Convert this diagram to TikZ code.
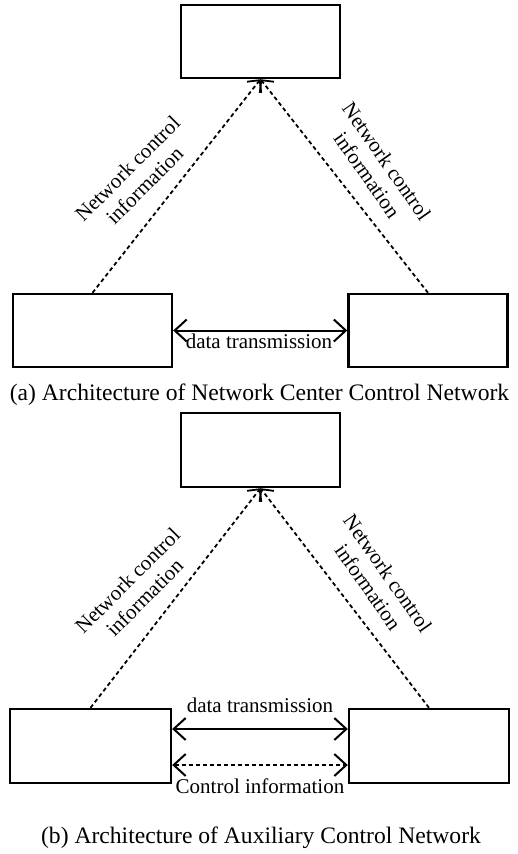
\documentclass[tikz,border=0pt]{standalone}
\usepackage{fontspec}
\setmainfont{Liberation Serif}
\usetikzlibrary{arrows.meta}
\begin{document}
\begin{tikzpicture}[x=1pt,y=-1pt,
  box/.style={draw, line width=2.4pt, inner sep=0pt, minimum width=159pt, minimum height=73pt},
  lbl/.style={font=\fontsize{21}{24}\selectfont, inner sep=0pt},
  captxt/.style={font=\fontsize{23.6}{27}\selectfont, inner sep=0pt, anchor=base},
  ctrl/.style={line width=1.8pt, dash pattern=on 4pt off 3pt,
    -{Straight Barb[length=9pt,width=18pt,line width=1.8pt]}},
  link/.style={line width=2pt,
    {Straight Barb[length=12pt,width=22pt,line width=2pt]}-{Straight Barb[length=12pt,width=22pt,line width=2pt]}},
  dlink/.style={link, dash pattern=on 4pt off 3pt}]
\useasboundingbox (0,0) rectangle (518,854);

% ---- (a) network center control ----
\node[box] (ta) at (260.5,41.5) {};
\node[box] (la) at (92.5,330.5) {};
\node[box] (ra) at (428,330.5) {};
\draw[ctrl] (la.north) -- (ta.south);
\draw[ctrl] (ra.north) -- (ta.south);
\draw[link] (la.east) -- (ra.west);
\node[lbl, anchor=base] (da) at (259,348) {data transmission};
\node[lbl, align=center, rotate=45] (nla) at (136,177) {Network control\\information};
\node[lbl, align=center, rotate=-55] (nra) at (377,168) {Network control\\information};
\node[captxt] (capa) at (259.5,400) {(a) Architecture of Network Center Control Network};

% ---- (b) auxiliary control ----
\node[box, minimum height=74pt] (tb) at (260.5,450) {};
\node[box, minimum width=161pt, minimum height=74pt] (lb) at (90.5,746) {};
\node[box, minimum width=160pt, minimum height=74pt] (rb) at (429,746) {};
\draw[ctrl] (lb.north) -- (tb.south);
\draw[ctrl] (rb.north) -- (tb.south);
\draw[link] ([yshift=17pt]lb.east) -- ([yshift=17pt]rb.west);
\draw[dlink] ([yshift=-19pt]lb.east) -- ([yshift=-19pt]rb.west);
\node[lbl, anchor=base] (db) at (260,712) {data transmission};
\node[lbl, anchor=base] (cb) at (260,793) {Control information};
\node[lbl, align=center, rotate=45] (nlb) at (136,589) {Network control\\information};
\node[lbl, align=center, rotate=-55] (nrb) at (378,580) {Network control\\information};
\node[captxt] (capb) at (261,843) {(b) Architecture of Auxiliary Control Network};
\end{tikzpicture}
\end{document}
